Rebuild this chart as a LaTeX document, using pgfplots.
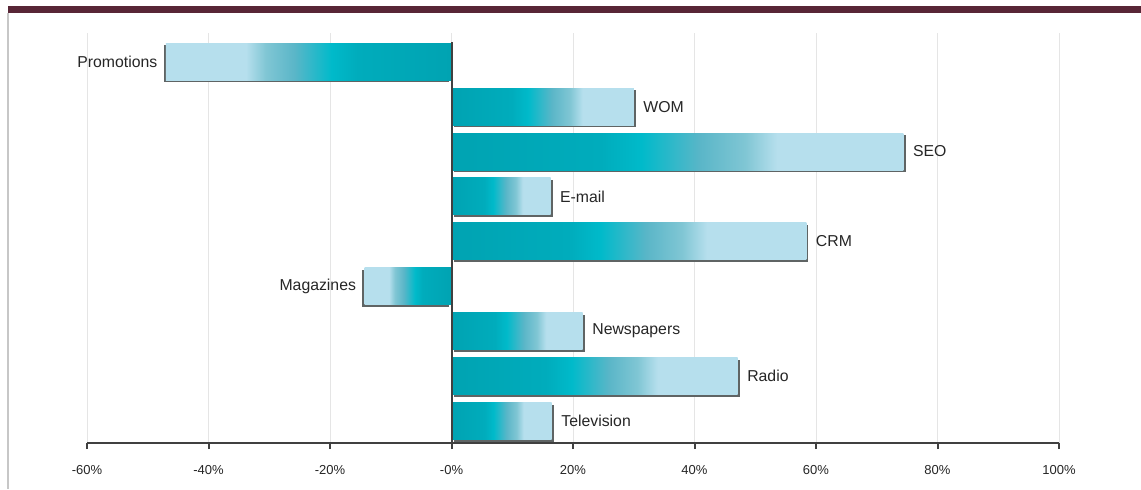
\documentclass[border=0pt]{standalone}
\usepackage{pgfplots}
\pgfplotsset{compat=1.18}
\usepackage{fontspec}
\setmainfont{Liberation Sans}

\definecolor{c1}{RGB}{0,163,178}
\definecolor{c2}{RGB}{0,172,188}
\definecolor{c3}{RGB}{0,186,202}
\definecolor{c4}{RGB}{90,182,200}
\definecolor{c5}{RGB}{128,198,212}
\definecolor{c6}{RGB}{182,223,237}
\definecolor{maroon}{RGB}{88,38,54}
\definecolor{shad}{RGB}{95,100,100}

\pgfdeclarehorizontalshading{posbar}{100bp}{color(0bp)=(c1); color(25bp)=(c1); color(41.5bp)=(c2); color(46bp)=(c3); color(52.5bp)=(c4); color(57.5bp)=(c5); color(61bp)=(c6); color(100bp)=(c6)}
\pgfdeclarehorizontalshading{negbar}{100bp}{color(0bp)=(c6); color(39bp)=(c6); color(42.5bp)=(c5); color(47.5bp)=(c4); color(54bp)=(c3); color(58.5bp)=(c2); color(75bp)=(c1); color(100bp)=(c1)}

\pgfplotsset{
  posb/.style={shading=posbar, draw=none,
    nodes near coords={\pgfplotspointmeta},
    nodes near coords style={anchor=west, xshift=1.3pt}},
  negb/.style={shading=negbar, draw=none,
    nodes near coords={\pgfplotspointmeta},
    nodes near coords style={anchor=east, xshift=-0.8pt}},
  shp/.style={fill=shad, draw=none, xshift=1.1pt, yshift=-1.1pt, forget plot},
  shn/.style={fill=shad, draw=none, xshift=-1.1pt, yshift=-1.1pt, forget plot},
}

\begin{document}
\begin{tikzpicture}
\useasboundingbox (-43.5pt,-23pt) rectangle (527pt,221.5pt);
\fill[white] (-43.5pt,-23pt) rectangle (527pt,221.5pt);
\begin{axis}[
  width=486pt, height=205pt, scale only axis,
  xmin=-60, xmax=100, ymin=0.51, ymax=9.64,
  xbar, bar width=18.5pt, bar shift=0pt,
  axis x line*=bottom, axis y line=none,
  x axis line style={-, line width=1pt, color=black!75},
  xtick={-60,-40,-20,0,20,40,60,80,100},
  xticklabels={-60\%,-40\%,-20\%,-0\%,20\%,40\%,60\%,80\%,100\%},
  xticklabel style={font=\fontsize{6.5}{7}\selectfont, text=black!85, yshift=-4.5pt},
  tick align=outside, major tick length=3pt,
  every tick/.style={line width=1pt, color=black!75},
  ytick=\empty,
  xmajorgrids, grid style={line width=0.5pt, color=black!10},
  point meta=explicit symbolic,
  every node near coord/.append style={font=\fontsize{7.9}{9}\selectfont, text=black!85},
  clip=false,
]
\addplot[shn] coordinates {(-47,9)};
\addplot[negb] coordinates {(-47,9) [Promotions]};
\addplot[shp] coordinates {(30,8)};
\addplot[posb] coordinates {(30,8) [WOM]};
\addplot[shp] coordinates {(74.4,7)};
\addplot[posb] coordinates {(74.4,7) [SEO]};
\addplot[shp] coordinates {(16.3,6)};
\addplot[posb] coordinates {(16.3,6) [E-mail]};
\addplot[shp] coordinates {(58.4,5)};
\addplot[posb] coordinates {(58.4,5) [CRM]};
\addplot[shn] coordinates {(-14.3,4)};
\addplot[negb] coordinates {(-14.3,4) [Magazines]};
\addplot[shp] coordinates {(21.6,3)};
\addplot[posb] coordinates {(21.6,3) [Newspapers]};
\addplot[shp] coordinates {(47.1,2)};
\addplot[posb] coordinates {(47.1,2) [Radio]};
\addplot[shp] coordinates {(16.5,1)};
\addplot[posb] coordinates {(16.5,1) [Television]};
\draw[black!75, line width=1pt] (axis cs:0,0.51) -- (axis cs:0,9.44);
\end{axis}
\fill[maroon] (-39.5pt,215pt) rectangle (527pt,218.5pt);
\draw[black!22, line width=0.6pt] (-39.5pt,215pt) -- (-39.5pt,-23pt);
\end{tikzpicture}
\end{document}
